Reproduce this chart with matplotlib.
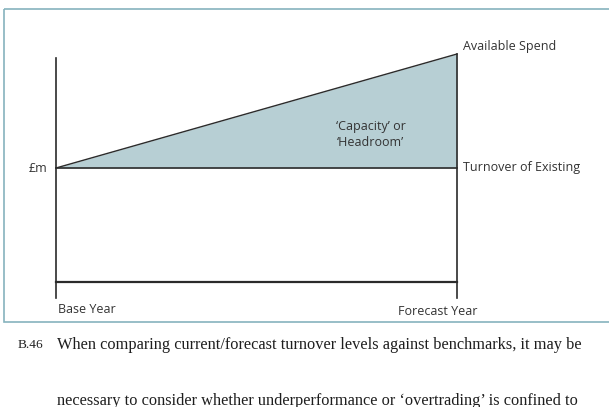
import matplotlib
matplotlib.use("Agg")
import matplotlib.pyplot as plt
from matplotlib.patches import Rectangle

# Data (y in £m index units: bottom baseline = 0)
years = ["Base Year", "Forecast Year"]
x_pos = [0, 1]
turnover_existing = [1.0, 1.0]
available_spend = [1.0, 2.0]
series_labels = ["Available Spend", "Turnover of Existing"]
area_label = "\u2018Capacity\u2019 or\n\u2018Headroom\u2019"
y_label = "\u00a3m"
para_num = "B.46"
para_lines = ["When comparing current/forecast turnover levels against benchmarks, it may be",
              "necessary to consider whether underperformance or \u2018overtrading\u2019 is confined to"]

W, H = 609, 407
fig = plt.figure(figsize=(W/100, H/100), dpi=100)
fig.patch.set_facecolor("white")

# Background / frame axes in pixel coordinates
bg = fig.add_axes([0, 0, 1, 1])
bg.set_xlim(0, W)
bg.set_ylim(H, 0)
bg.axis("off")
bg.add_patch(Rectangle((3.5, 8.5), 620, 313.5, fill=False, edgecolor="#86b3bd", lw=1.2))

sans = ["Open Sans", "DejaVu Sans"]
serif = ["Liberation Serif", "DejaVu Serif"]

bg.text(18, 345, para_num, fontsize=9.6, family=serif, va="center", ha="left", color="#222222")
bg.text(57, 345, para_lines[0], fontsize=11.8, family=serif, va="center", ha="left", color="#1e1e1e")
bg.text(57, 401, para_lines[1], fontsize=11.8, family=serif, va="center", ha="left", color="#1e1e1e")

# Chart axes
left, right, bottom_px, top_px = 56, 457, 282, 54
ax = fig.add_axes([left/W, 1 - bottom_px/H, (right-left)/W, (bottom_px-top_px)/H])
ax.set_xlim(0, 1)
ax.set_ylim(0, 2)
ax.axis("off")

lc = "#2b2b2b"
ax.fill_between(x_pos, turnover_existing, available_spend, color="#b7cfd4", lw=0)
ax.plot(x_pos, available_spend, color=lc, lw=1.0, clip_on=False)
ax.plot(x_pos, turnover_existing, color=lc, lw=1.2, clip_on=False)
ax.plot(x_pos, [0, 0], color=lc, lw=1.6, clip_on=False)
ax.plot([0, 0], [-0.14, 1.965], color=lc, lw=1.2, clip_on=False)
ax.plot([1, 1], [-0.14, available_spend[1]], color=lc, lw=1.2, clip_on=False)

tc = "#333333"
ax.text(-0.022, turnover_existing[0], y_label, ha="right", va="center", fontsize=9, family=sans, color=tc)
ax.text(1.015, available_spend[1] + 0.07, series_labels[0], ha="left", va="center", fontsize=9, family=sans, color=tc)
ax.text(1.015, turnover_existing[1], series_labels[1], ha="left", va="center", fontsize=9, family=sans, color=tc)
ax.text(0.785, 1.29, area_label, ha="center", va="center", fontsize=9, family=sans, color=tc, linespacing=1.3)
ax.text(0.005, -0.24, years[0], ha="left", va="center", fontsize=9, family=sans, color=tc)
ax.text(0.953, -0.255, years[1], ha="center", va="center", fontsize=9, family=sans, color=tc)

fig.savefig("out.png", dpi=100)
